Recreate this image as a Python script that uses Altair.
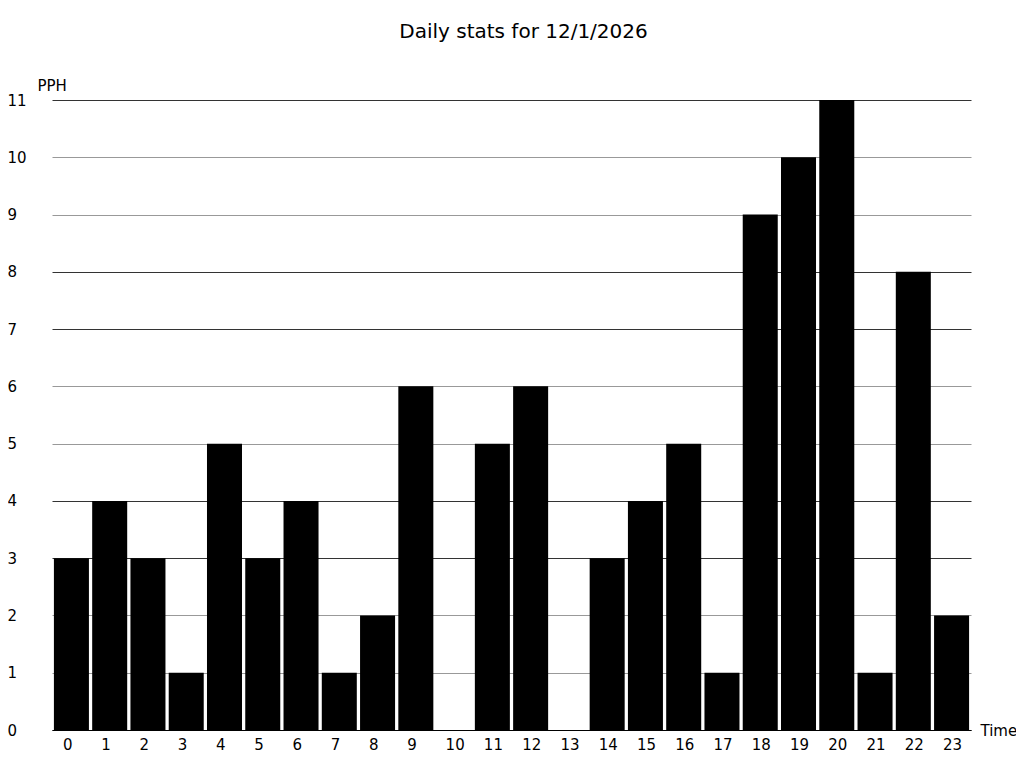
import altair as alt
import pandas as pd

hours = [str(h) for h in range(24)]
pph = [3, 4, 3, 1, 5, 3, 4, 1, 2, 6, 0, 5, 6, 0, 3, 4, 5, 1, 9, 10, 11, 1, 8, 2]
y_ticks = list(range(0, 12))

df = pd.DataFrame({"Time": hours, "PPH": pph})

FONT = "DejaVu Sans"

chart = alt.Chart(df).mark_bar(color="black").encode(
    x=alt.X(
        "Time:N",
        sort=hours,
        scale=alt.Scale(paddingInner=0.085, paddingOuter=0.05),
        axis=alt.Axis(
            title="Time",
            labelAngle=0,
            ticks=False,
            labelPadding=7,
            labelAlign="left",
            labelOffset=-8.5,
            labelFontSize=15,
            labelFont=FONT,
            labelColor="black",
            domainColor="black",
            domainWidth=1,
            titleFont=FONT,
            titleFontSize=15,
            titleFontWeight="normal",
            titleColor="black",
            titleAlign="left",
            titleBaseline="middle",
            titleAnchor="start",
            titleX=928,
            titleY=0,
        ),
    ),
    y=alt.Y(
        "PPH:Q",
        scale=alt.Scale(domain=[0, 11], nice=False),
        axis=alt.Axis(
            title="PPH",
            values=y_ticks,
            ticks=False,
            domain=False,
            grid=True,
            gridColor={
                "condition": {
                    "test": "indexof([1, 2, 5, 6, 9, 10], datum.value) >= 0",
                    "value": "#999999",
                },
                "value": "#333333",
            },
            gridWidth=1,
            labelAlign="left",
            labelBaseline="middle",
            labelPadding=45,
            labelFontSize=15,
            labelFont=FONT,
            labelColor="black",
            titleFont=FONT,
            titleFontSize=15,
            titleFontWeight="normal",
            titleColor="black",
            titleAngle=0,
            titleAlign="left",
            titleBaseline="middle",
            titleX=-15,
            titleY=-15,
        ),
    ),
).properties(
    width=919,
    height=630,
    title=alt.TitleParams(
        "Daily stats for 12/1/2026",
        font=FONT,
        fontSize=20,
        fontWeight="normal",
        color="black",
        anchor="middle",
        dx=12,
        offset=26,
        baseline="middle",
    ),
    autosize=alt.AutoSizeParams(type="none"),
    padding={"left": 44, "top": 92, "right": 45, "bottom": 30},
).configure_view(stroke=None)

chart.save("out.html", embed_options={"renderer": "svg", "actions": False})
